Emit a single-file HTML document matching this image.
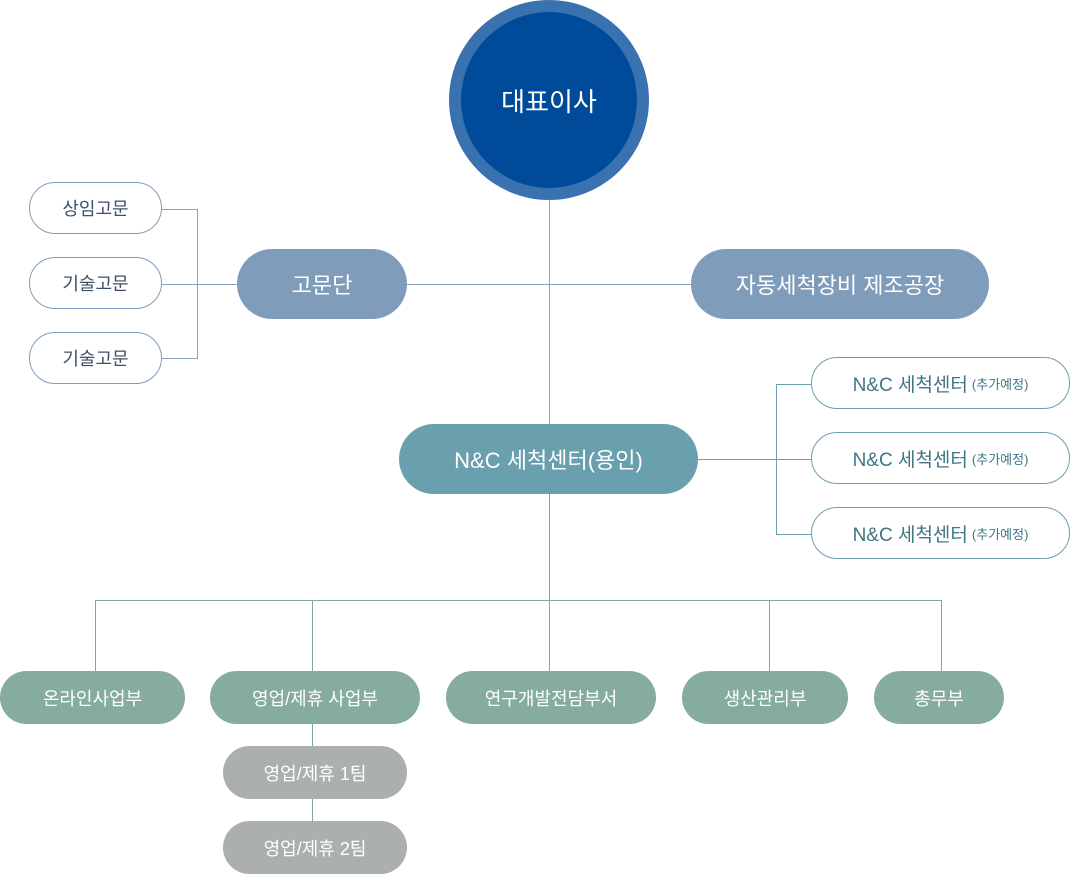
<!DOCTYPE html>
<html><head><meta charset="utf-8"><style>
body{margin:0;width:1071px;height:875px;background:#fff;position:relative;overflow:hidden;font-family:"Liberation Sans","Noto Sans CJK KR",sans-serif}
.p{position:absolute;display:flex;align-items:center;justify-content:center;border-radius:40px;box-sizing:border-box;white-space:nowrap}
.l{position:absolute;background:#8aa3bf}
.g{background:#86aba0;color:#fff;font-size:18px;height:53px;top:671px}
.s{background:#abb0ae;color:#fff;font-size:18px;height:53px;left:223px;width:184px}
.w{border:1px solid #7f9dbb;color:#3d5066;font-size:18px;height:52px;left:29px;width:133px;background:#fff}
.r{border:1px solid #6a9fad;color:#3f7585;font-size:19px;height:52px;left:811px;width:259px;background:#fff}
.r small{font-size:13px;margin-left:4px}
.t{background:#7fa89c}
</style></head><body>
<div class="l" style="left:549px;top:190px;width:1px;height:410px;background:#8fa4b8"></div>
<div class="l" style="left:407px;top:284px;width:284px;height:1px;background:#8fa4b8"></div>
<div class="l" style="left:162px;top:209px;width:36px;height:1px"></div>
<div class="l" style="left:162px;top:284px;width:75px;height:1px"></div>
<div class="l" style="left:162px;top:358px;width:36px;height:1px"></div>
<div class="l" style="left:197px;top:209px;width:1px;height:150px"></div>
<div class="l" style="left:698px;top:459px;width:113px;height:1px;background:#6a9fad"></div>
<div class="l" style="left:776px;top:384px;width:1px;height:151px;background:#6a9fad"></div>
<div class="l" style="left:776px;top:384px;width:35px;height:1px;background:#6a9fad"></div>
<div class="l" style="left:776px;top:534px;width:35px;height:1px;background:#6a9fad"></div>
<div class="l t" style="left:95px;top:600px;width:847px;height:1px"></div>
<div class="l t" style="left:95px;top:600px;width:1px;height:71px"></div>
<div class="l t" style="left:312px;top:600px;width:1px;height:71px"></div>
<div class="l t" style="left:549px;top:494px;width:1px;height:177px"></div>
<div class="l t" style="left:769px;top:600px;width:1px;height:71px"></div>
<div class="l t" style="left:941px;top:600px;width:1px;height:71px"></div>
<div class="l t" style="left:312px;top:723px;width:1px;height:100px"></div>
<div style="position:absolute;left:449px;top:0;width:200px;height:200px;border-radius:50%;background:#3a72b0"></div>
<div class="p" style="left:461px;top:12px;width:176px;height:176px;border-radius:50%;background:#004b99;color:#fff;font-size:26px">대표이사</div>
<div class="p" style="left:237px;top:249px;width:170px;height:70px;background:#7f9dbb;color:#fff;font-size:22px">고문단</div>
<div class="p" style="left:691px;top:249px;width:298px;height:70px;background:#7f9dbb;color:#fff;font-size:22px">자동세척장비 제조공장</div>
<div class="p w" style="top:182px">상임고문</div>
<div class="p w" style="top:257px">기술고문</div>
<div class="p w" style="top:332px">기술고문</div>
<div class="p" style="left:399px;top:424px;width:299px;height:70px;background:#6a9fad;color:#fff;font-size:22px">N&amp;C 세척센터(용인)</div>
<div class="p r" style="top:357px">N&amp;C 세척센터<small>(추가예정)</small></div>
<div class="p r" style="top:432px">N&amp;C 세척센터<small>(추가예정)</small></div>
<div class="p r" style="top:507px">N&amp;C 세척센터<small>(추가예정)</small></div>
<div class="p g" style="left:0;width:185px">온라인사업부</div>
<div class="p g" style="left:210px;width:210px">영업/제휴 사업부</div>
<div class="p g" style="left:446px;width:210px">연구개발전담부서</div>
<div class="p g" style="left:682px;width:166px">생산관리부</div>
<div class="p g" style="left:874px;width:130px">총무부</div>
<div class="p s" style="top:746px">영업/제휴 1팀</div>
<div class="p s" style="top:821px">영업/제휴 2팀</div>
</body></html>
